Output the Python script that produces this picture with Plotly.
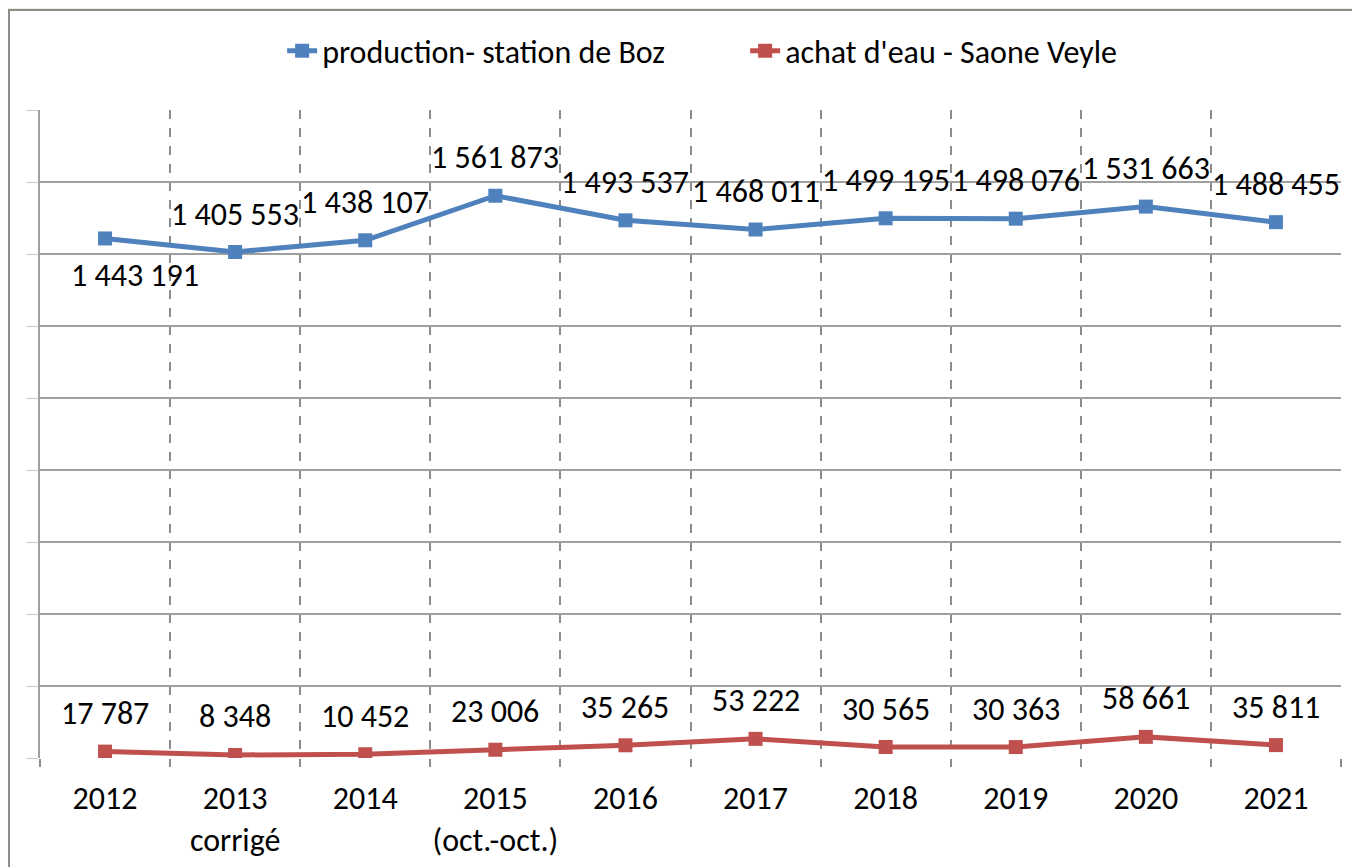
import plotly.graph_objects as go

categories = ["2012", "2013<br>corrigé", "2014", "2015<br>(oct.-oct.)", "2016",
              "2017", "2018", "2019", "2020", "2021"]
production_boz = [1443191, 1405553, 1438107, 1561873, 1493537,
                  1468011, 1499195, 1498076, 1531663, 1488455]
achat_saone_veyle = [17787, 8348, 10452, 23006, 35265,
                     53222, 30565, 30363, 58661, 35811]
blue_label_side = ["below"] + ["above"] * 9
red_label_side = ["above"] * 10

BLUE = "#4F81BD"
RED = "#C0504D"
FONT = "Carlito, Lato, sans-serif"
FS = 32

def fmt(v):
    return f"{v:,}".replace(",", " ")

fig = go.Figure()
fig.add_trace(go.Scatter(
    x=categories, y=production_boz, mode="lines+markers",
    name="production- station de Boz",
    line=dict(color=BLUE, width=5),
    marker=dict(symbol="square", size=14, color=BLUE),
))
fig.add_trace(go.Scatter(
    x=categories, y=achat_saone_veyle, mode="lines+markers",
    name="achat d'eau - Saone Veyle",
    line=dict(color=RED, width=5),
    marker=dict(symbol="square", size=14, color=RED),
))

annotations = []
for series, sides in ((production_boz, blue_label_side), (achat_saone_veyle, red_label_side)):
    for i, (v, s) in enumerate(zip(series, sides)):
        annotations.append(dict(
            x=i, y=v, xref="x", yref="y", text=fmt(v), showarrow=False,
            yanchor="middle", xanchor="center",
            yshift=38 if s == "above" else -37,
            xshift=0 if s == "above" else 30,
            font=dict(family=FONT, size=FS, color="black"),
        ))

shapes = [dict(
    type="rect", xref="paper", yref="paper",
    x0=-0.0238, x1=1.2, y0=-0.4, y1=1.1543,
    fillcolor="white", line=dict(color="#8C8C8C", width=2), layer="below",
)]

fig.update_layout(
    width=1360, height=867,
    margin=dict(l=32, r=27, t=102, b=117, autoexpand=False),
    paper_bgcolor="#EBF1DE",
    plot_bgcolor="white",
    font=dict(family=FONT, size=FS, color="black"),
    showlegend=True,
    legend=dict(orientation="h", x=0.542, xanchor="center", y=1.091, yanchor="middle",
                font=dict(family=FONT, size=FS), bgcolor="rgba(0,0,0,0)",
                entrywidth=418, entrywidthmode="pixels", tracegroupgap=0),
    annotations=annotations,
    shapes=shapes,
)
fig.update_xaxes(
    type="category", tickson="boundaries", range=[-0.5, 9.5],
    showgrid=True, gridcolor="#8C8C8C", griddash="dash", gridwidth=1.5,
    ticks="outside", ticklen=8, tickcolor="#8C8C8C", tickwidth=1.5,
    showline=False, zeroline=False, tickangle=0, automargin=False,
    ticklabelstandoff=18,
    tickfont=dict(family=FONT, size=FS),
)
fig.update_yaxes(
    range=[0, 1800000], dtick=200000, tick0=0,
    showgrid=True, gridcolor="#A0A0A0", gridwidth=2,
    showticklabels=False, ticks="outside", ticklen=12, tickcolor="#C8C8C8", tickwidth=1,
    showline=True, linecolor="#A0A0A0", linewidth=2, zeroline=False, automargin=False,
)

fig.write_html("out.html")
